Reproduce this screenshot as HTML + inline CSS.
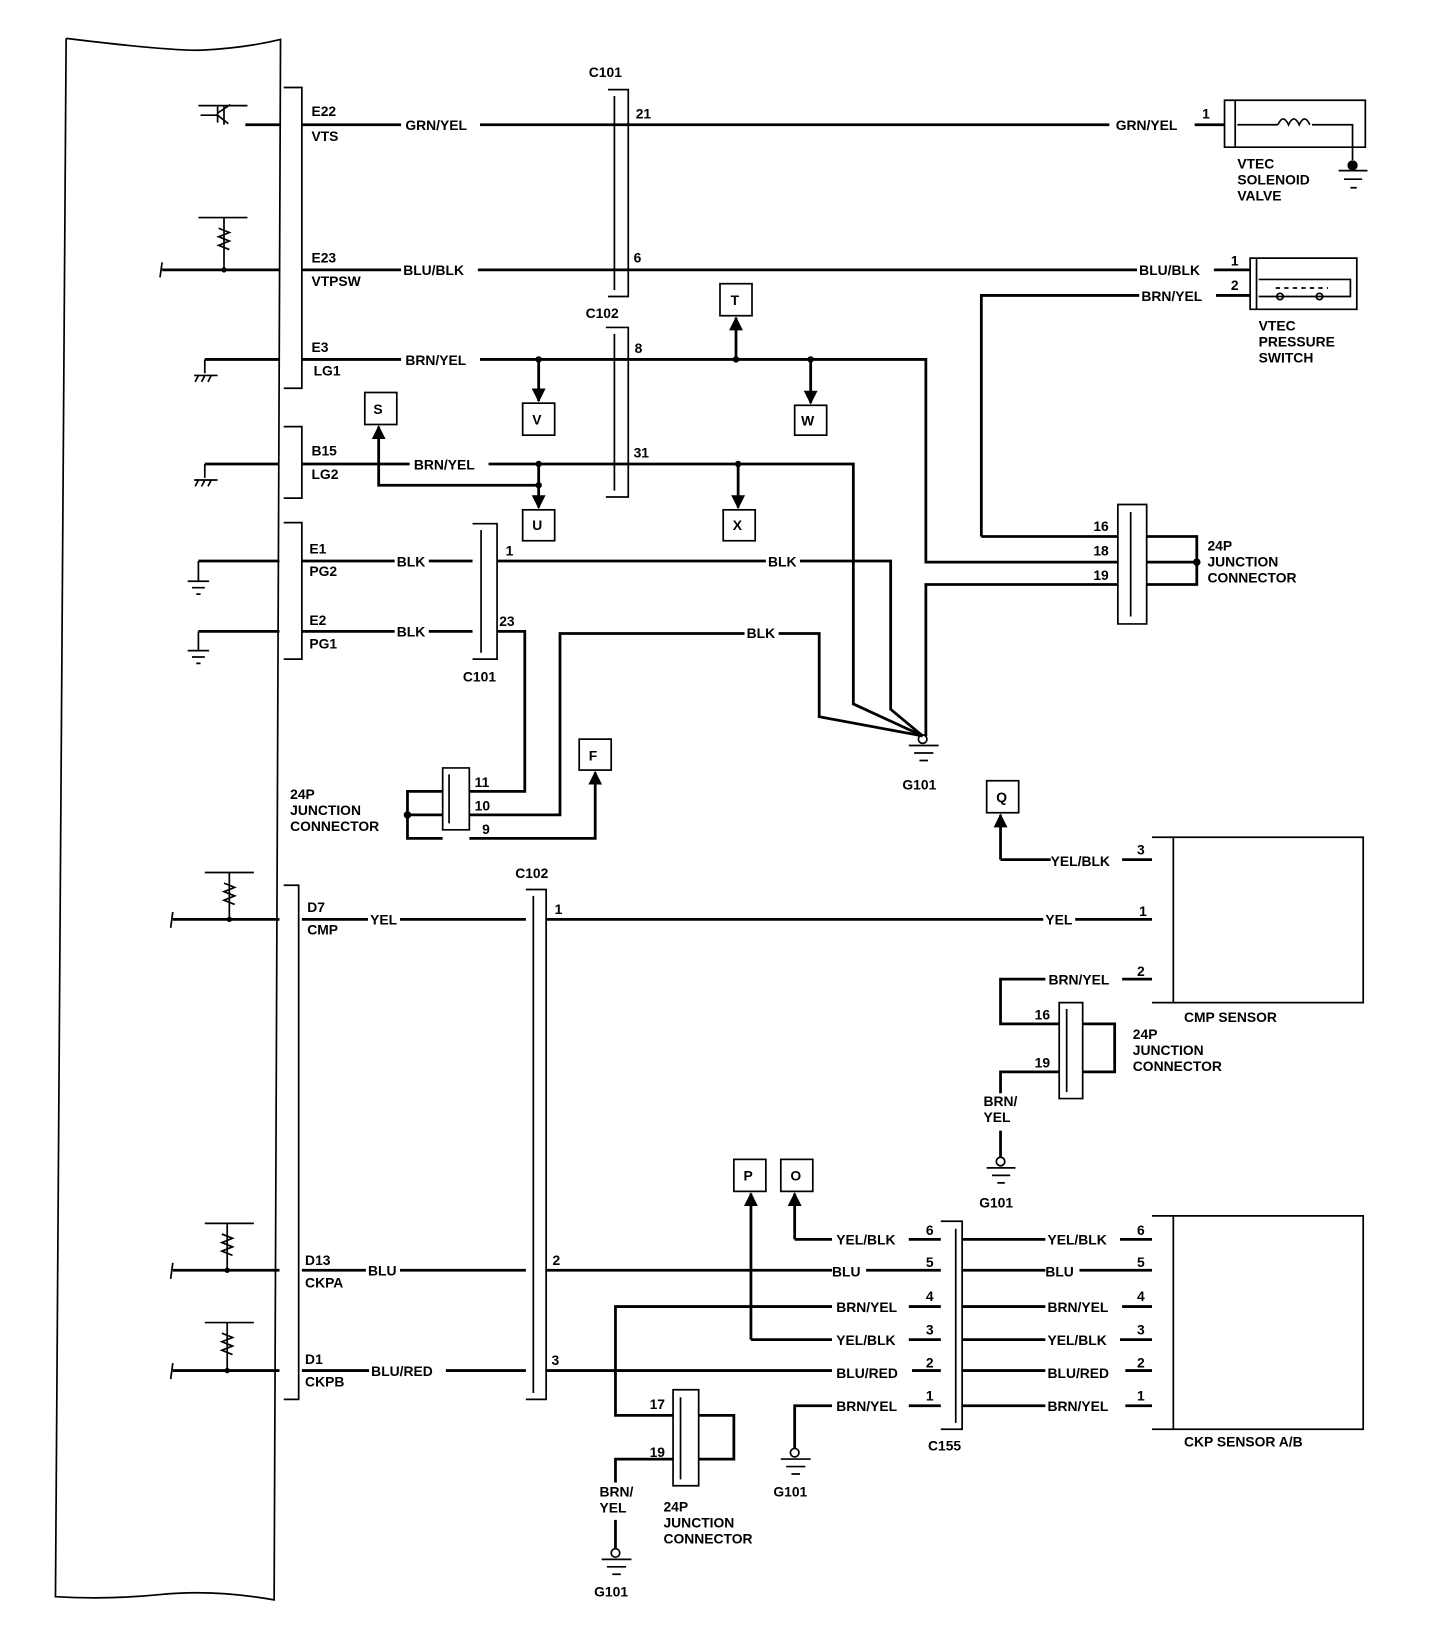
<!DOCTYPE html>
<html><head><meta charset="utf-8"><style>
html,body{margin:0;padding:0;background:#fff}
svg{display:block}
text{font-family:"Liberation Sans",sans-serif;font-weight:bold;font-size:13px;fill:#000}
</style></head><body>
<svg width="1440" height="1650" viewBox="0 0 1350 1547" preserveAspectRatio="none" xmlns="http://www.w3.org/2000/svg">
<defs>
<marker id="ar" viewBox="0 0 10 10" refX="9" refY="5" markerWidth="5" markerHeight="5" orient="auto"><path d="M0,0 L10,5 L0,10z" fill="#000"/></marker>
</defs>
<g fill="none" stroke="#000" stroke-width="1.6">
<path d="M62,36 Q160,48 190,47 Q230,45 263,37 L257,1500 Q200,1490 150,1495 Q100,1500 52,1497 L62,36"/>
<path d="M266,82 H283 V364 H266"/>
<path d="M266,400 H283 V467 H266"/>
<path d="M266,490 H283 V618 H266"/>
<path d="M266,830 H280 V1312 H266"/>
<path d="M570,84 H589 V278 H570 M576,90 V272"/>
<path d="M568,307 H589 V466 H568 M576,313 V460"/>
<path d="M443,491 H466 V618 H443 M451,497 V612"/>
<path d="M493,834 H512 V1312 H493 M500,840 V1306"/>
<path d="M882,1145 H902 V1340 H882 M896,1152 V1334"/>
<path d="M1048,473 H1075 V585 H1048 Z M1060,480 V578"/>
<path d="M415,720 H440 V778 H415 Z M421,726 V772"/>
<path d="M993,940 H1015 V1030 H993 Z M1000,946 V1024"/>
<path d="M631,1303 H655 V1393 H631 Z M638,1310 V1387"/>
<path d="M1148,94 H1158 V138 H1148 Z"/>
<path d="M1158,94 H1280 V138 H1158"/>
<path d="M1172,242 H1178 V290 H1172 Z M1178,242 H1272 V290 H1178"/>
<path d="M1180,262 H1266 V278 H1180"/>
<path d="M1080,785 H1100 V940 H1080 M1100,785 H1278 V940 H1100"/>
<path d="M1080,1140 H1100 V1340 H1080 M1100,1140 H1278 V1340 H1100"/>
<rect x="342" y="368" width="30" height="30"/>
<rect x="490" y="378" width="30" height="30"/>
<rect x="675" y="266" width="30" height="30"/>
<rect x="745" y="380" width="30" height="28"/>
<rect x="490" y="478" width="30" height="29"/>
<rect x="678" y="478" width="30" height="29"/>
<rect x="543" y="693" width="30" height="29"/>
<rect x="925" y="732" width="30" height="30"/>
<rect x="688" y="1087" width="30" height="30"/>
<rect x="732" y="1087" width="30" height="30"/>
</g>
<g fill="none" stroke="#000" stroke-width="2.6">
<path d="M230,117 H262 M283,117 H376 M450,117 H1040 M1120,117 H1148"/>
<path d="M1160,117 H1198 M1230,117 H1268 V150" stroke-width="1.6"/>
<path d="M152,253 H262 M283,253 H376 M448,253 H1066 M1138,253 H1172"/>
<path d="M920,503 V277 H1068 M1140,277 H1172"/>
<path d="M192,337 H262 M283,337 H376 M450,337 H868 V527 H1048"/>
<path d="M505,337 V376" marker-end="url(#ar)"/>
<path d="M760,337 V378" marker-end="url(#ar)"/>
<path d="M690,337 V298" marker-end="url(#ar)"/>
<path d="M192,435 H262 M283,435 H384 M458,435 H800 V660 L865,690"/>
<path d="M505,435 V476" marker-end="url(#ar)"/>
<path d="M692,435 V476" marker-end="url(#ar)"/>
<path d="M505,455 H355 V400" marker-end="url(#ar)"/>
<path d="M186,526 H262 M283,526 H370 M402,526 H443 M466,526 H718 M750,526 H835 V665 L865,690"/>
<path d="M186,592 H262 M283,592 H370 M402,592 H443 M466,592 H492 V742 H440"/>
<path d="M440,764 H525 V594 H698 M730,594 H768 V672 L865,690"/>
<path d="M868,690 V548 H1048"/>
<path d="M920,503 H1048"/>
<path d="M1075,503 H1122 V548 H1075 M1075,527 H1122"/>
<path d="M415,742 H382 V786 H415 M382,764 H415"/>
<path d="M440,786 H558 V724" marker-end="url(#ar)"/>
<path d="M938,806 V764" marker-end="url(#ar)"/>
<path d="M938,806 H985 M1052,806 H1080"/>
<path d="M162,862 H262 M283,862 H345 M375,862 H493 M512,862 H978 M1008,862 H1080"/>
<path d="M1052,918 H1080 M980,918 H938 V960 H993"/>
<path d="M1015,960 H1045 V1005 H1015"/>
<path d="M993,1005 H938 V1025 M938,1060 V1085"/>
<path d="M162,1191 H262 M283,1191 H343 M375,1191 H493 M512,1191 H780 M812,1191 H882 M902,1191 H980 M1012,1191 H1080"/>
<path d="M162,1285 H262 M283,1285 H346 M418,1285 H493 M512,1285 H780 M855,1285 H882 M902,1285 H980 M1055,1285 H1080"/>
<path d="M745,1162 V1119" marker-end="url(#ar)"/>
<path d="M745,1162 H780 M852,1162 H882 M902,1162 H980 M1050,1162 H1080"/>
<path d="M780,1225 H577 V1327 H631 M852,1225 H882 M902,1225 H980 M1052,1225 H1080"/>
<path d="M704,1256 V1119" marker-end="url(#ar)"/>
<path d="M704,1256 H780 M852,1256 H882 M902,1256 H980 M1050,1256 H1080"/>
<path d="M745,1358 V1318 H780 M852,1318 H882 M902,1318 H980 M1055,1318 H1080"/>
<path d="M655,1327 H688 V1368 H655"/>
<path d="M631,1368 H577 V1390 M577,1425 V1452"/>
</g>
<g fill="none" stroke="#000" stroke-width="1.6">
<path d="M186,99 H232 M210,99 V117 M188,108 H204 M204,100 V115 M204,106 L216,98 M204,108 L214,116"/>
<path d="M186,204 H232 M210,204 V253 M205,214 L215,218 L205,222 L215,226 L205,230 L215,234"/>
<path d="M152,246 L150,260"/>
<path d="M192,337 V350 M182,352 H204 M186,352 L183,358 M192,352 L189,358 M198,352 L195,358"/>
<path d="M192,435 V448 M182,450 H204 M186,450 L183,456 M192,450 L189,456 M198,450 L195,456"/>
<path d="M186,526 V545 M176,545 H196 M180,551 H192 M184,557 H188"/>
<path d="M186,592 V610 M176,610 H196 M180,616 H192 M184,622 H188"/>
<path d="M192,818 H238 M215,818 V862 M210,828 L220,832 L210,836 L220,840 L210,844 L220,848"/>
<path d="M162,855 L160,870"/>
<path d="M192,1147 H238 M213,1147 V1191 M208,1157 L218,1161 L208,1165 L218,1169 L208,1173 L218,1177"/>
<path d="M162,1184 L160,1199"/>
<path d="M192,1240 H238 M213,1240 V1285 M208,1250 L218,1254 L208,1258 L218,1262 L208,1266 L218,1270"/>
<path d="M162,1278 L160,1293"/>
<path d="M1198,117 Q1203,106 1208,117 Q1213,106 1218,117 Q1223,106 1228,117"/>
<circle cx="1268" cy="155" r="4" fill="#000"/>
<path d="M1255,160 H1282 M1260,168 H1277 M1266,176 H1272"/>
<path d="M1196,270 H1245" stroke-dasharray="4,4"/>
<circle cx="1200" cy="278" r="3"/><circle cx="1237" cy="278" r="3"/>
<circle cx="865" cy="693" r="4"/>
<path d="M852,699 H880 M857,706 H875 M862,713 H870"/>
<circle cx="938" cy="1089" r="4"/>
<path d="M925,1095 H952 M930,1102 H947 M935,1109 H942"/>
<circle cx="745" cy="1362" r="4"/>
<path d="M732,1368 H760 M737,1375 H755 M742,1382 H750"/>
<circle cx="577" cy="1456" r="4"/>
<path d="M564,1462 H592 M569,1469 H587 M574,1476 H582"/>
</g>
<g fill="#000">
<circle cx="505" cy="337" r="3"/><circle cx="690" cy="337" r="3"/><circle cx="760" cy="337" r="3"/>
<circle cx="505" cy="435" r="3"/><circle cx="505" cy="455" r="3"/><circle cx="692" cy="435" r="3"/>
<circle cx="1122" cy="527" r="3.5"/><circle cx="382" cy="764" r="3.5"/>
<circle cx="210" cy="253" r="2.5"/><circle cx="215" cy="862" r="2.5"/><circle cx="213" cy="1191" r="2.5"/><circle cx="213" cy="1285" r="2.5"/>
</g>
<text x="292" y="109">E22</text><text x="292" y="132">VTS</text>
<text x="380" y="122">GRN/YEL</text>
<text x="552" y="72">C101</text>
<text x="596" y="111">21</text>
<text x="1046" y="122">GRN/YEL</text>
<text x="1127" y="111">1</text>
<text x="1160" y="158">VTEC</text><text x="1160" y="173">SOLENOID</text><text x="1160" y="188">VALVE</text>
<text x="292" y="246">E23</text><text x="292" y="268">VTPSW</text>
<text x="378" y="258">BLU/BLK</text>
<text x="594" y="246">6</text>
<text x="1068" y="258">BLU/BLK</text><text x="1154" y="249">1</text>
<text x="1070" y="282">BRN/YEL</text><text x="1154" y="272">2</text>
<text x="1180" y="310">VTEC</text><text x="1180" y="325">PRESSURE</text><text x="1180" y="340">SWITCH</text>
<text x="549" y="298">C102</text>
<text x="292" y="330">E3</text><text x="294" y="352">LG1</text>
<text x="380" y="342">BRN/YEL</text>
<text x="595" y="331">8</text>
<text x="350" y="388">S</text><text x="499" y="398">V</text><text x="685" y="286">T</text><text x="751" y="399">W</text>
<text x="499" y="497">U</text><text x="687" y="497">X</text><text x="552" y="713">F</text><text x="934" y="752">Q</text>
<text x="697" y="1107">P</text><text x="741" y="1107">O</text>
<text x="292" y="427">B15</text><text x="292" y="449">LG2</text>
<text x="388" y="440">BRN/YEL</text>
<text x="594" y="429">31</text>
<text x="290" y="519">E1</text><text x="290" y="540">PG2</text>
<text x="372" y="531">BLK</text><text x="474" y="521">1</text><text x="720" y="531">BLK</text>
<text x="290" y="586">E2</text><text x="290" y="608">PG1</text>
<text x="372" y="597">BLK</text><text x="468" y="587">23</text><text x="700" y="598">BLK</text>
<text x="434" y="639">C101</text>
<text x="846" y="740">G101</text>
<text x="1025" y="498">16</text><text x="1025" y="521">18</text><text x="1025" y="544">19</text>
<text x="1132" y="516">24P</text><text x="1132" y="531">JUNCTION</text><text x="1132" y="546">CONNECTOR</text>
<text x="272" y="749">24P</text><text x="272" y="764">JUNCTION</text><text x="272" y="779">CONNECTOR</text>
<text x="445" y="738">11</text><text x="445" y="760">10</text><text x="452" y="782">9</text>
<text x="985" y="812">YEL/BLK</text><text x="1066" y="801">3</text>
<text x="483" y="823">C102</text>
<text x="288" y="855">D7</text><text x="288" y="876">CMP</text>
<text x="347" y="867">YEL</text><text x="520" y="857">1</text><text x="980" y="867">YEL</text><text x="1068" y="859">1</text>
<text x="983" y="923">BRN/YEL</text><text x="1066" y="915">2</text>
<text x="1110" y="958">CMP SENSOR</text>
<text x="970" y="956">16</text><text x="970" y="1001">19</text>
<text x="1062" y="974">24P</text><text x="1062" y="989">JUNCTION</text><text x="1062" y="1004">CONNECTOR</text>
<text x="922" y="1037">BRN/</text><text x="922" y="1052">YEL</text>
<text x="918" y="1132">G101</text>
<text x="286" y="1186">D13</text><text x="286" y="1207">CKPA</text>
<text x="345" y="1196">BLU</text><text x="518" y="1186">2</text>
<text x="286" y="1279">D1</text><text x="286" y="1300">CKPB</text>
<text x="348" y="1290">BLU/RED</text><text x="517" y="1280">3</text>
<text x="784" y="1167">YEL/BLK</text><text x="868" y="1158">6</text>
<text x="780" y="1197">BLU</text><text x="868" y="1188">5</text>
<text x="784" y="1230">BRN/YEL</text><text x="868" y="1220">4</text>
<text x="784" y="1261">YEL/BLK</text><text x="868" y="1251">3</text>
<text x="784" y="1292">BLU/RED</text><text x="868" y="1282">2</text>
<text x="784" y="1323">BRN/YEL</text><text x="868" y="1313">1</text>
<text x="982" y="1167">YEL/BLK</text><text x="1066" y="1158">6</text>
<text x="980" y="1197">BLU</text><text x="1066" y="1188">5</text>
<text x="982" y="1230">BRN/YEL</text><text x="1066" y="1220">4</text>
<text x="982" y="1261">YEL/BLK</text><text x="1066" y="1251">3</text>
<text x="982" y="1292">BLU/RED</text><text x="1066" y="1282">2</text>
<text x="982" y="1323">BRN/YEL</text><text x="1066" y="1313">1</text>
<text x="870" y="1360">C155</text>
<text x="1110" y="1356">CKP SENSOR A/B</text>
<text x="609" y="1321">17</text><text x="609" y="1366">19</text>
<text x="725" y="1403">G101</text>
<text x="562" y="1403">BRN/</text><text x="562" y="1418">YEL</text>
<text x="622" y="1417">24P</text><text x="622" y="1432">JUNCTION</text><text x="622" y="1447">CONNECTOR</text>
<text x="557" y="1497">G101</text>
</svg>
</body></html>
